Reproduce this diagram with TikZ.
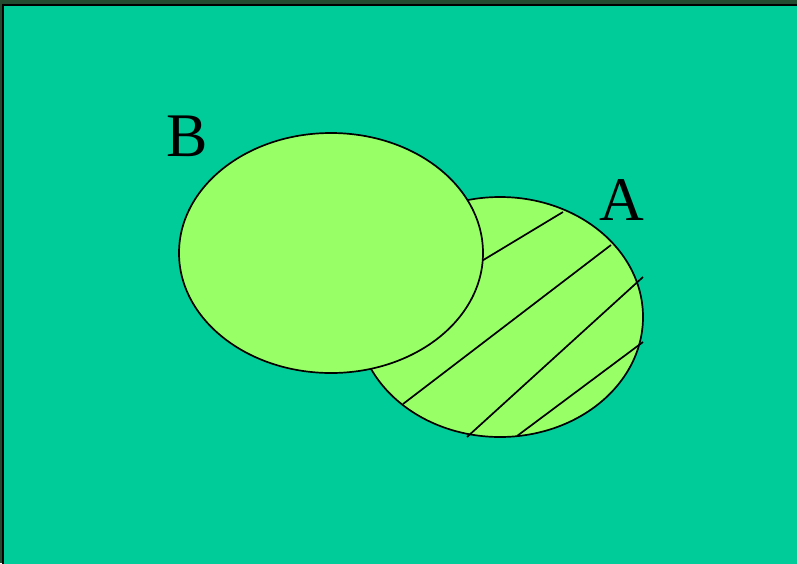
\documentclass[tikz,border=0pt]{standalone}
\usepackage{fontspec}
\setmainfont{Liberation Serif}
\definecolor{sea}{HTML}{00CC99}
\definecolor{leaf}{HTML}{99FF66}
\definecolor{moss}{HTML}{244A30}

\begin{document}
\begin{tikzpicture}[x=1pt, y=-1pt,
        setshape/.style={draw=black, fill=leaf, line width=1.7pt},
        hatch/.style={draw=black, line width=1.7pt},
        setlabel/.style={font=\fontsize{62}{62}\selectfont, inner sep=0pt}]

    % background and frame
    \useasboundingbox (0,0) rectangle (797,563);
    \fill[moss] (0,0) rectangle (797,563);
    \fill[sea] (3,5) rectangle (802,568);
    \draw[black, line width=2.5pt] (3,570) -- (3,5) -- (802,5);

    % set A with hatching
    \draw[setshape] (500,317) ellipse [x radius=143, y radius=120];
    \draw[hatch] (480,262) -- (563,212);
    \draw[hatch] (403,404) -- (611,245);
    \draw[hatch] (467,437) -- (643,277);
    \draw[hatch] (517,436) -- (643,342);

    % set B on top
    \draw[setshape] (331,253) ellipse [x radius=152, y radius=120];

    \node[setlabel] (labelB) at (187,136) {B};
    \node[setlabel] (labelA) at (622,200) {A};
\end{tikzpicture}
\end{document}
